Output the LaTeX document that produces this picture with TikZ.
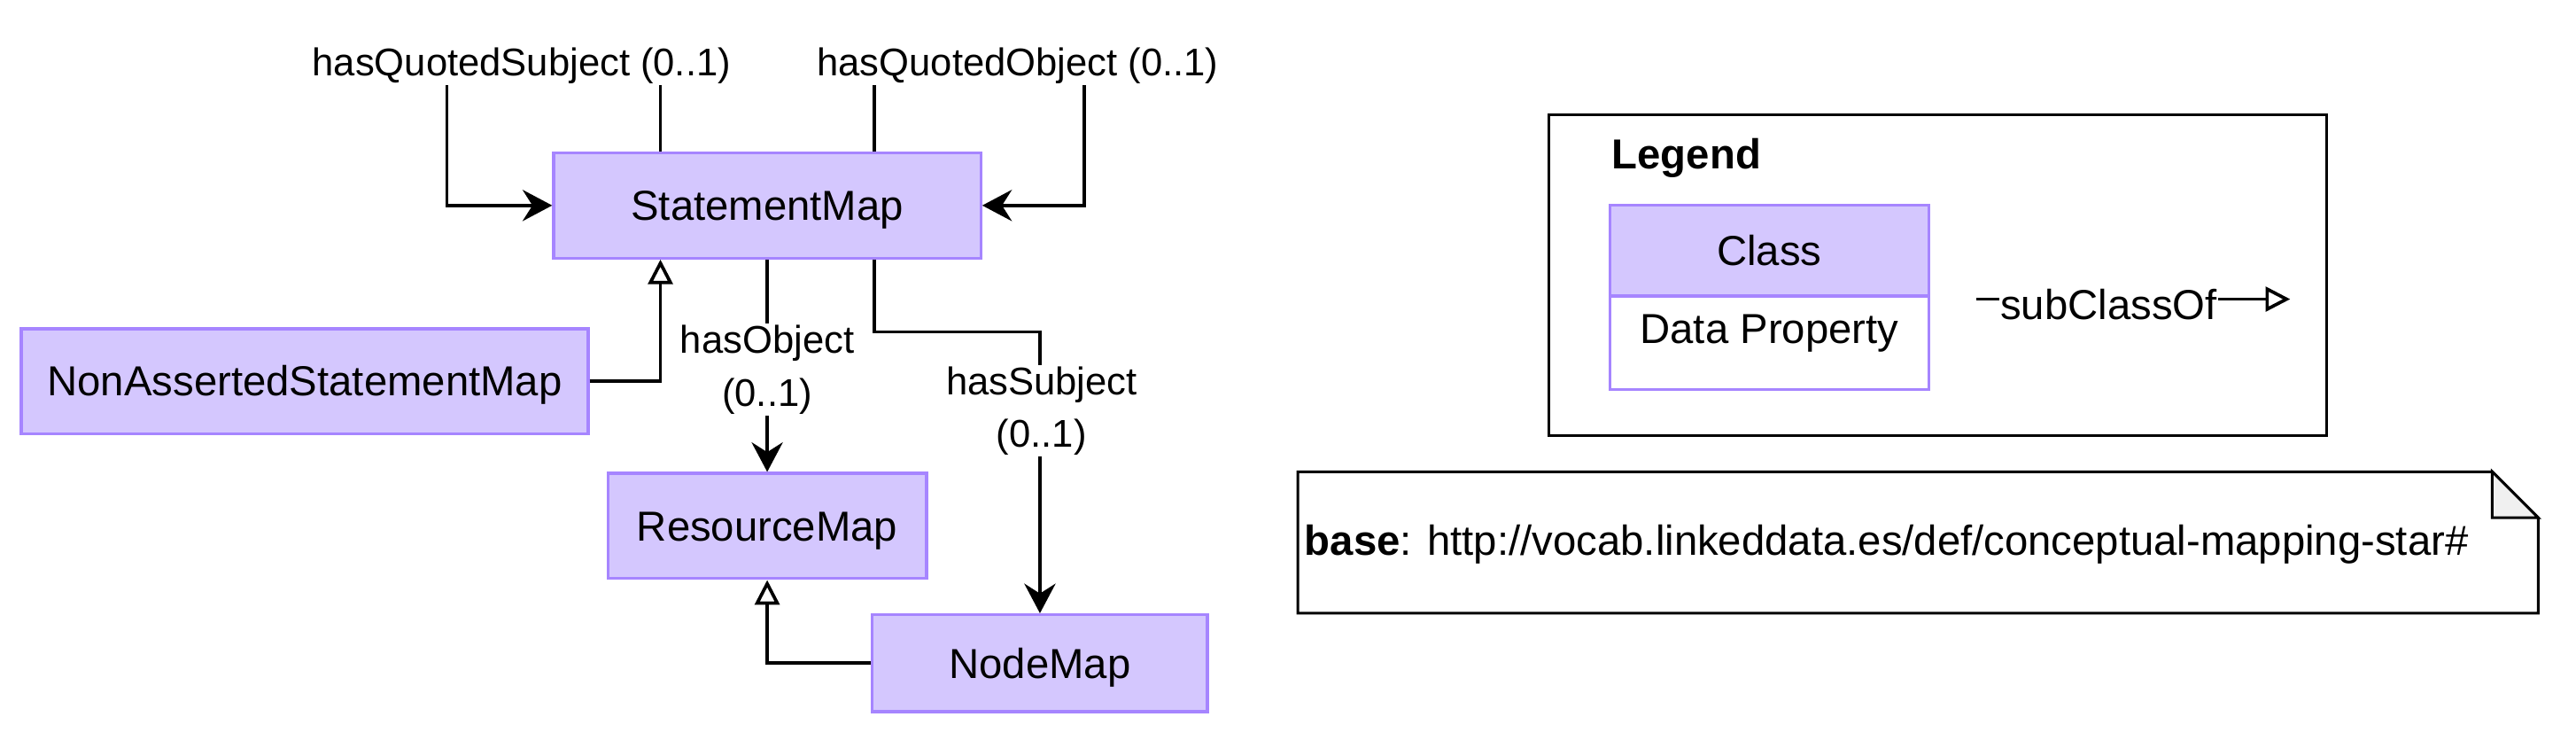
\documentclass[tikz,border=0pt]{standalone}
\usepackage{fontspec}
\setmainfont{Liberation Sans}
\usetikzlibrary{arrows.meta}
\definecolor{cfill}{HTML}{D4C7FE}
\definecolor{cline}{HTML}{A685FF}
\definecolor{foldgray}{HTML}{F0F0F0}
\newcommand\clsfont{\fontsize{25.5}{31}\selectfont}
\newcommand\lblfont{\fontsize{23.5}{32}\selectfont}
\tikzset{
  cls/.style={draw=cline, fill=cfill, line width=1.8pt, inner sep=0pt,
    font=\clsfont, text height=21pt, text depth=3pt},
  rel/.style={draw=black, line width=2pt, -{Stealth[length=18pt,width=19pt,inset=6pt]}},
  gen/.style={draw=black, line width=2pt, -{Triangle[open,length=15pt,width=15pt,fill=white]}},
  lbl/.style={fill=white, inner sep=1pt, font=\lblfont, align=center, yshift=-3pt},
  frame/.style={draw=black, line width=1.6pt}
}
\begin{document}
\begin{tikzpicture}[x=1pt,y=-1pt]
\useasboundingbox (0,0) rectangle (1568,455);
% classes
\node[cls, minimum width=260, minimum height=64] (sm) at (467,125) {StatementMap};
\node[cls, minimum width=345, minimum height=64] (nasm) at (185.5,232) {NonAssertedStatementMap};
\node[cls, minimum width=194, minimum height=64] (rm) at (467,320) {ResourceMap};
\node[cls, minimum width=204, minimum height=59] (nm) at (633,403.5) {NodeMap};
% hasQuotedSubject
\coordinate (qs1) at (402,37);
\coordinate (qs2) at (272,37);
\draw[rel] (sm.north -| qs1) -- (qs1) -- (qs2) |- (sm.west);
\node[lbl] (lqs) at (317.5,37) {hasQuotedSubject (0..1)};
% hasQuotedObject
\coordinate (qo1) at (532,37);
\coordinate (qo2) at (660,37);
\draw[rel] (sm.north -| qo1) -- (qo1) -- (qo2) |- (sm.east);
\node[lbl] (lqo) at (619.5,37) {hasQuotedObject (0..1)};
% hasObject
\draw[rel] (sm.south) -- (rm.north);
\node[lbl] (lho) at (467,222) {hasObject\\(0..1)};
% hasSubject
\coordinate (hs1) at (532,202);
\draw[rel] (sm.south -| hs1) -- (hs1) -| (nm.north);
\node[lbl] (lhs) at (634,247) {hasSubject\\(0..1)};
% subclass
\coordinate (g1) at (402,232);
\draw[gen] (nasm.east) -- (g1) -- (g1 |- sm.south);
\draw[gen] (nm.west) -| (rm.south);
% legend
\node[frame, minimum width=473, minimum height=195, inner sep=0pt] (leg) at (1179.5,167.5) {};
\node[font=\clsfont\bfseries, anchor=west, inner sep=0pt, yshift=-3pt] (legt) at (981,93) {Legend};
\node[cls, minimum width=194, minimum height=55] (lc) at (1077,152.5) {Class};
\node[cls, fill=white, minimum width=194, minimum height=57] (ld) at (1077,208.5) {};
\node[font=\clsfont, inner sep=0pt, yshift=-3pt] (ldt) at (1077,200) {Data Property};
\coordinate (sa) at (1203,182);
\coordinate (sb) at (1394,182);
\draw[gen] (sa) -- (sb);
\node[lbl, font=\clsfont, inner sep=0.5pt] (lsc) at (1283.5,182) {subClassOf};
% note
\draw[frame, fill=white] (790,287) -- (1517,287) -- (1545,315) -- (1545,373) -- (790,373) -- cycle;
\filldraw[frame, fill=foldgray, line join=miter] (1517,287) -- (1517,315) -- (1545,315) -- cycle;
\node[font=\clsfont, anchor=west, inner sep=0pt, yshift=-3pt] (base) at (794,328) {\textbf{base}: http://vocab.linkeddata.es/def/conceptual-mapping-star\#};
\end{tikzpicture}
\end{document}
